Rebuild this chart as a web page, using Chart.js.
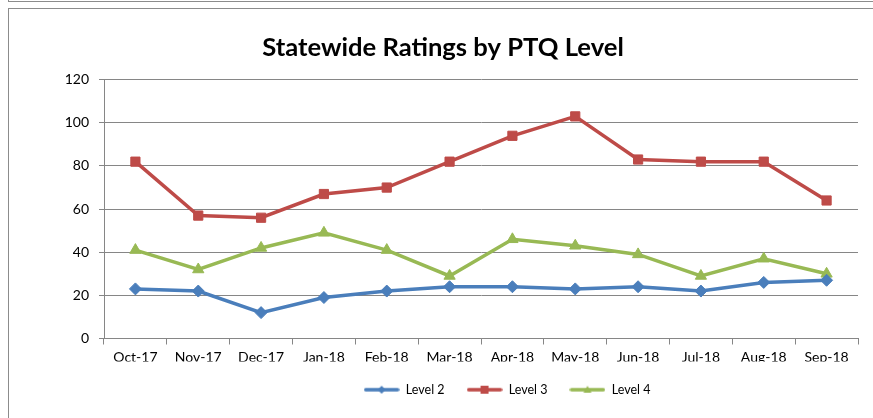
<!DOCTYPE html>
<html>
<head>
<meta charset="utf-8">
<script src="https://cdn.jsdelivr.net/npm/chart.js@4"></script>
<style>
  body { margin: 0; background: #fff; }
  #wrap { position: relative; width: 873px; height: 418px; overflow: hidden; }
  .box { position: absolute; border: 1.5px solid #8c8c8c; background: #fff; }
  #prev { left: 8px; top: -12px; width: 900px; height: 12px; }
  #frame { left: 8px; top: 8px; width: 900px; height: 500px; }
  #c { position: absolute; left: 0; top: 0; }
</style>
</head>
<body>
<div id="wrap">
  <div class="box" id="prev"></div>
  <div class="box" id="frame"></div>
  <canvas id="c" width="873" height="418"></canvas>
</div>
<script>
let months = ['Oct-17', 'Nov-17', 'Dec-17', 'Jan-18', 'Feb-18', 'Mar-18', 'Apr-18', 'May-18', 'Jun-18', 'Jul-18', 'Aug-18', 'Sep-18']
let level2 = [23, 22, 12, 19, 22, 24, 24, 23, 24, 22, 26, 27]
let level3 = [82, 57, 56, 67, 70, 82, 94, 103, 83, 82, 82, 64]
let level4 = [41, 32, 42, 49, 41, 29, 46, 43, 39, 29, 37, 30]
let seriesNames = ['Level 2', 'Level 3', 'Level 4']

let font = 'Lato, "Liberation Sans", sans-serif'
let gridColor = '#868686'

// small line + marker picture for the legend
function legendIcon(color, shape) {
    let cv = document.createElement('canvas')
    cv.width = 36
    cv.height = 10
    let ctx = cv.getContext('2d')
    ctx.strokeStyle = color
    ctx.fillStyle = color
    ctx.lineWidth = 3.5
    ctx.lineCap = 'round'
    ctx.beginPath()
    ctx.moveTo(2, 5)
    ctx.lineTo(34, 5)
    ctx.stroke()
    ctx.beginPath()
    if (shape === 'diamond') {
        ctx.moveTo(18, 1); ctx.lineTo(22, 5); ctx.lineTo(18, 9); ctx.lineTo(14, 5)
    } else if (shape === 'square') {
        ctx.rect(14, 1, 8, 8)
    } else {
        ctx.moveTo(18, 1); ctx.lineTo(22, 8); ctx.lineTo(14, 8)
    }
    ctx.closePath()
    ctx.fill()
    return cv
}

function series(label, data, color, pointStyle, radius, shape) {
    return {
        label: label,
        data: data,
        borderColor: color,
        backgroundColor: color,
        borderWidth: 3.5,
        pointStyle: pointStyle,
        pointRadius: radius,
        pointHoverRadius: radius,
        pointBorderWidth: 1,
        tension: 0,
        icon: legendIcon(color, shape)
    }
}

// title and legend in the original sit right of centre
let shiftBoxes = {
    id: 'shiftBoxes',
    afterLayout(chart) {
        if (chart.legend) {
            chart.legend.left += 78
            chart.legend.right += 78
        }
        if (chart.titleBlock) {
            chart.titleBlock.left += 14
            chart.titleBlock.right += 14
        }
    }
}

new Chart(document.getElementById('c'), {
    type: 'line',
    data: {
        labels: months,
        datasets: [
            series(seriesNames[0], level2, '#4A7EBB', 'rectRot', 6, 'diamond'),
            series(seriesNames[1], level3, '#BE4B48', 'rect', 6.5, 'square'),
            series(seriesNames[2], level4, '#98B954', 'triangle', 6.5, 'triangle')
        ]
    },
    plugins: [shiftBoxes],
    options: {
        responsive: false,
        animation: false,
        layout: { padding: { top: 0, right: 15, bottom: 12, left: 0 } },
        scales: {
            x: {
                offset: true,
                grid: { offset: true, drawOnChartArea: false, drawTicks: true, tickLength: 6, color: gridColor },
                border: { color: gridColor, width: 1 },
                ticks: { color: '#000', font: { family: font, size: 14 }, padding: 5, maxRotation: 0 },
                afterFit: s => { s.height = 23 }
            },
            y: {
                min: 0,
                max: 120,
                ticks: { stepSize: 20, color: '#000', font: { family: font, size: 14 }, padding: 10 },
                grid: { color: gridColor, tickLength: 5 },
                border: { color: gridColor, width: 1 },
                afterFit: s => { s.width = 104 }
            }
        },
        plugins: {
            title: {
                display: true,
                text: 'Statewide Ratings by PTQ Level',
                color: '#000',
                font: { family: font, size: 25.6, weight: 'bold' },
                padding: { top: 32, bottom: 17 }
            },
            legend: {
                position: 'bottom',
                labels: {
                    color: '#000',
                    font: { family: font, size: 12.5 },
                    usePointStyle: true,
                    pointStyleWidth: 36,
                    boxHeight: 10,
                    padding: 22,
                    generateLabels: chart => chart.data.datasets.map((ds, i) => ({
                        text: ds.label,
                        pointStyle: ds.icon,
                        fillStyle: ds.backgroundColor,
                        strokeStyle: ds.borderColor,
                        lineWidth: 0,
                        datasetIndex: i
                    }))
                }
            },
            tooltip: { enabled: false }
        }
    }
})
</script>
</body>
</html>
